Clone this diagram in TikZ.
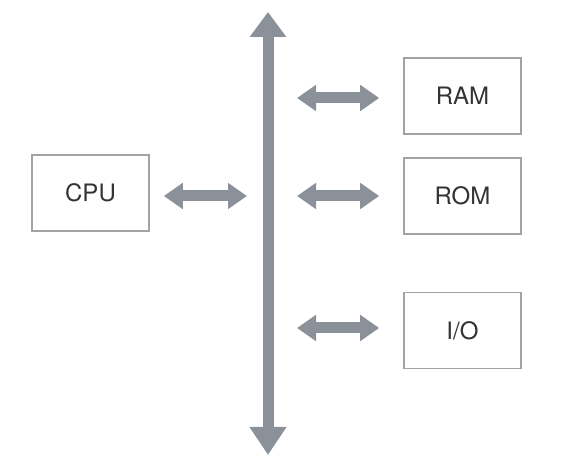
\documentclass[tikz,border=0pt]{standalone}
\usepackage{fontspec}
\setmainfont{TeX Gyre Heros}
\usetikzlibrary{arrows.meta}

\definecolor{busgray}{HTML}{8A9198}
\definecolor{boxgray}{HTML}{A3A3A3}

\tikzset{
  unit/.style={draw=boxgray, line width=1.6pt, minimum width=117pt, minimum height=76pt,
    inner sep=0pt, font=\fontsize{24}{24}\selectfont, text=black!80},
  link/.style={draw=busgray, line width=11pt, {Triangle[width=25pt,length=19pt]}-{Triangle[width=25pt,length=19pt]}},
  bus/.style={draw=busgray, line width=11pt, {Triangle[width=35pt,length=25pt]}-{Triangle[width=35pt,length=28pt]}}
}

\begin{document}
\begin{tikzpicture}[x=1pt, y=-1pt]
      \useasboundingbox (0,0) rectangle (568,462);
      % system bus
      \coordinate (bustop) at (268,12);
      \coordinate (busbot) at (268,455);
      \draw[bus] (bustop) -- (busbot);
      \coordinate (bus-cpu) at (268,196);
      \coordinate (bus-ram) at (268,98);
      \coordinate (bus-rom) at (268,196);
      \coordinate (bus-io) at (268,328);

      \node[unit] (cpu) at (90.5,193) {CPU};
      \node[unit] (ram) at (462.5,96) {RAM};
      \node[unit] (rom) at (462.5,196) {ROM};
      \node[unit] (io) at (462.5,330.5) {I/O};

      \draw[link, shorten <=14pt, shorten >=21pt] (cpu.east |- bus-cpu) -- (bus-cpu);
      \draw[link, shorten <=29pt, shorten >=24pt] (bus-ram) -- (ram.west |- bus-ram);
      \draw[link, shorten <=29pt, shorten >=24pt] (bus-rom) -- (rom.west |- bus-rom);
      \draw[link, shorten <=29pt, shorten >=24pt] (bus-io) -- (io.west |- bus-io);
    \end{tikzpicture}
\end{document}
